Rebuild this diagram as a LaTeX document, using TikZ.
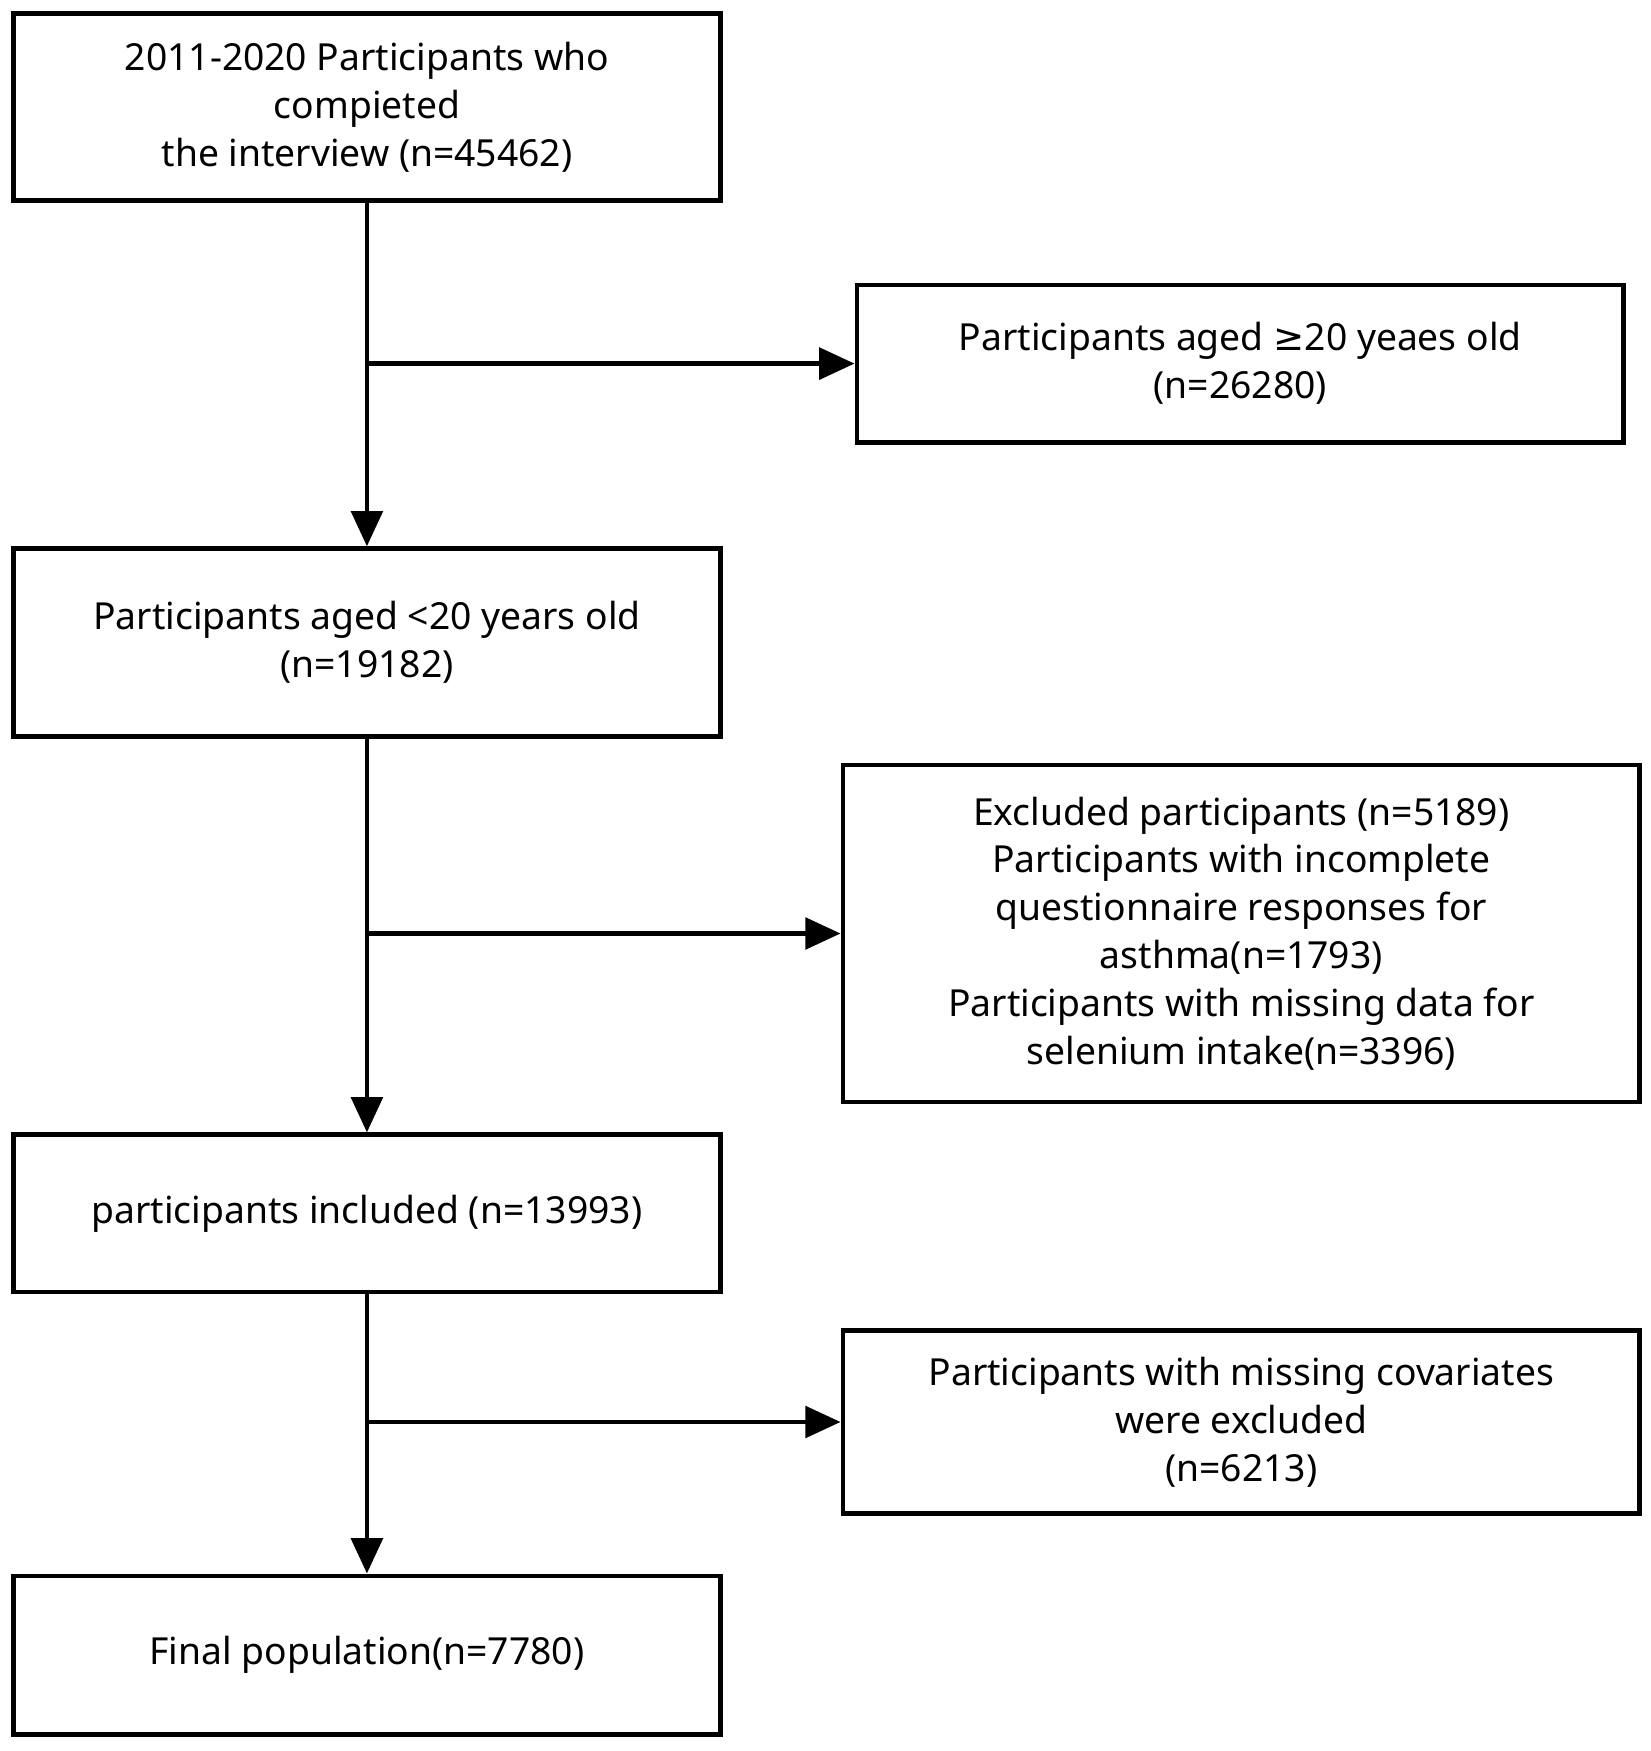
\documentclass[tikz,border=0pt]{standalone}
\usepackage{fontspec}
\setmainfont{Noto Sans}
\newfontfamily\symfont{DejaVu Sans}
\usetikzlibrary{positioning,arrows.meta}
\begin{document}
\begin{tikzpicture}[x=0.01cm,y=-0.01cm]
\tikzstyle{box}=[draw,line width=1.2pt,align=center,inner sep=0pt,font=\fontsize{9.5}{12.2}\selectfont]
\tikzstyle{arr}=[line width=1.2pt,-{Triangle[length=9pt,width=8pt]}]
\useasboundingbox (0,0) rectangle (1480,1570);
\node [box,minimum width=6.34cm,minimum height=1.68cm] (start) at (329,96) {2011-2020 Participants who\\compieted\\the interview (n=45462)};
\node [box,minimum width=6.87cm,minimum height=1.41cm] (older) at (1112,326) {Participants aged {\symfont ≥}20 yeaes old\\(n=26280)};
\node [box,minimum width=6.34cm,minimum height=1.68cm] (young) at (329,576) {Participants aged <20 years old\\(n=19182)};
\node [box,minimum width=7.14cm,minimum height=3.02cm] (excl) at (1113,837) {Excluded participants (n=5189)\\Participants with incomplete\\questionnaire responses for\\asthma(n=1793)\\Participants with missing data for\\selenium intake(n=3396)};
\node [box,minimum width=6.34cm,minimum height=1.41cm] (incl) at (329,1088) {participants included (n=13993)};
\node [box,minimum width=7.14cm,minimum height=1.64cm] (cov) at (1113,1275) {Participants with missing covariates\\were excluded\\(n=6213)};
\node [box,minimum width=6.34cm,minimum height=1.42cm] (final) at (329,1484) {Final population(n=7780)};
\coordinate (s1) at (329,326);
\coordinate (s2) at (329,837);
\coordinate (s3) at (329,1275);
\draw [arr] (start) -- (young);
\draw [arr] (young) -- (incl);
\draw [arr] (incl) -- (final);
\draw [arr] (s1) -- (older);
\draw [arr] (s2) -- (excl);
\draw [arr] (s3) -- (cov);
\end{tikzpicture}
\end{document}
